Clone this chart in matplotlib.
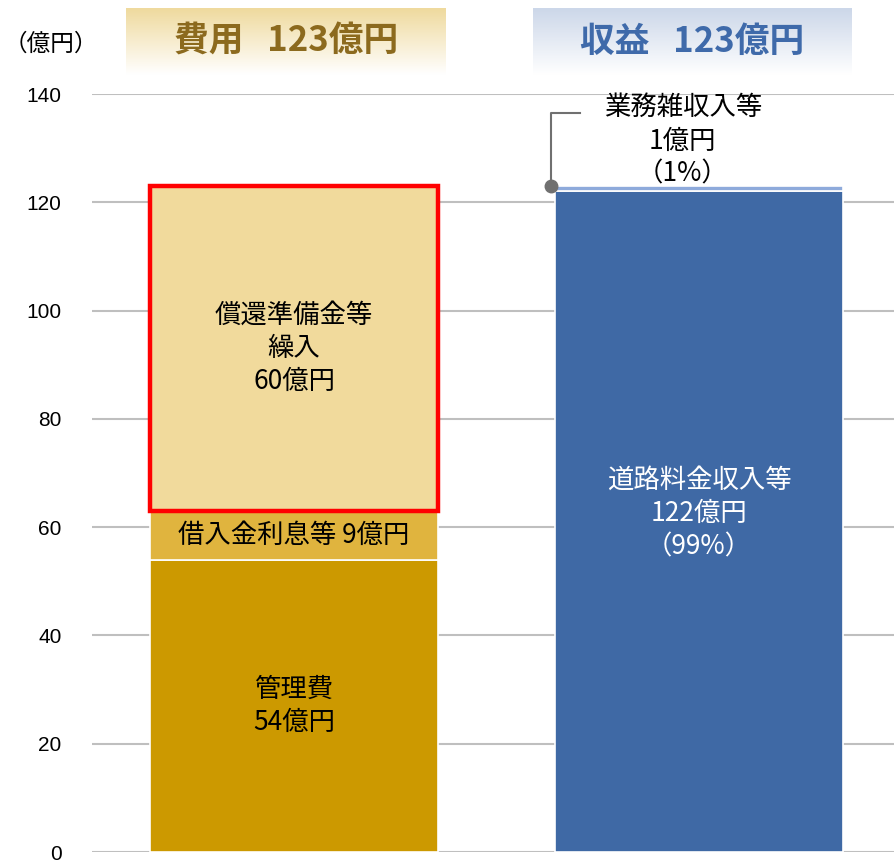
import matplotlib
matplotlib.use("Agg")
import matplotlib.pyplot as plt
import numpy as np
from matplotlib.patches import Rectangle
from matplotlib.colors import LinearSegmentedColormap

plt.rcParams["font.family"] = ["Noto Sans CJK JP", "DejaVu Sans"]

# data (億円)
cost_labels = ["管理費\n54億円", "借入金利息等 9億円", "償還準備金等\n繰入\n60億円"]
cost_values = [54, 9, 60]
cost_colors = ["#CC9900", "#E0B43E", "#F1DA9C"]

rev_labels = ["道路料金収入等\n122億円\n（99%）", "業務雑収入等\n1億円\n（1%）"]
rev_values = [122, 1]
rev_colors = ["#3F69A5", "#8EAADB"]

headers = ["費用   123億円", "収益   123億円"]
yticks = [0, 20, 40, 60, 80, 100, 120, 140]

W, H = 895, 863
fig = plt.figure(figsize=(W / 100, H / 100), dpi=100)
ax = fig.add_axes([92 / W, (H - 852) / H, (W - 92) / W, (852 - 94) / H])

bar_w = 0.711

# cost stack
bottom = 0
for v, c, lab in zip(cost_values, cost_colors, cost_labels):
    ax.bar(0, v, bar_w, bottom=bottom, color=c, edgecolor="white", linewidth=1.2, zorder=3)
    ax.text(0, bottom + v / 2, lab, ha="center", va="center", fontsize=19,
            linespacing=1.3, color="black", zorder=5)
    bottom += v

# red frame around the reserve segment
red_bottom = cost_values[0] + cost_values[1]
ax.add_patch(Rectangle((-bar_w / 2, red_bottom), bar_w, cost_values[2], fill=False,
                       edgecolor="#FF0000", linewidth=3.2, zorder=4))

# revenue stack
bottom = 0
for v, c in zip(rev_values, rev_colors):
    ax.bar(1, v, bar_w, bottom=bottom, color=c, edgecolor="white", linewidth=1.2, zorder=3)
    bottom += v
ax.text(1, rev_values[0] / 2 + 1.5, rev_labels[0], ha="center", va="center", fontsize=19,
        linespacing=1.3, color="white", zorder=5)

# callout for small revenue item
dot_x, dot_y = 0.635, sum(rev_values)
ax.plot([dot_x, dot_x, 0.706], [dot_y, 136.5, 136.5], color="#707070", lw=1.5, zorder=4,
        clip_on=False)
ax.plot(dot_x, dot_y, "o", color="#707070", ms=9, zorder=6, clip_on=False)
ax.text(0.96, 131.3, rev_labels[1], ha="center", va="center", fontsize=19,
        linespacing=1.3, color="black", zorder=5)

ax.set_xlim(-0.499, 1.484)
ax.set_ylim(0, 140)
ax.set_yticks(yticks)
ax.set_xticks([])
ax.tick_params(axis="y", length=0, pad=22, labelsize=15)
for lbl in ax.get_yticklabels():
    lbl.set_fontfamily("Liberation Sans")
ax.yaxis.grid(True, color="#BFBFBF", linewidth=1.5, zorder=0)
ax.set_axisbelow(True)
for s in ax.spines.values():
    s.set_visible(False)

fig.text(4 / W, (H - 44) / H, "（億円）", fontsize=17, ha="left", va="center")

# header boxes with vertical gradients
def header(x0, x1, top_color, text_color, title):
    hax = fig.add_axes([x0 / W, (H - 75) / H, (x1 - x0) / W, 67 / H])
    cmap = LinearSegmentedColormap.from_list("g", [top_color, "white"])
    grad = np.linspace(0, 1, 100).reshape(-1, 1)
    hax.imshow(grad, aspect="auto", cmap=cmap, extent=[0, 1, 0, 1], origin="upper")
    hax.set_axis_off()
    hax.text(0.5, 0.5, title, ha="center", va="center", fontsize=25,
             fontweight="bold", color=text_color, transform=hax.transAxes)

header(126, 446, "#EFDA9E", "#8C6A1E", headers[0])
header(533, 852, "#CCD7E9", "#3F6AAA", headers[1])

fig.savefig("out.png", dpi=100)
